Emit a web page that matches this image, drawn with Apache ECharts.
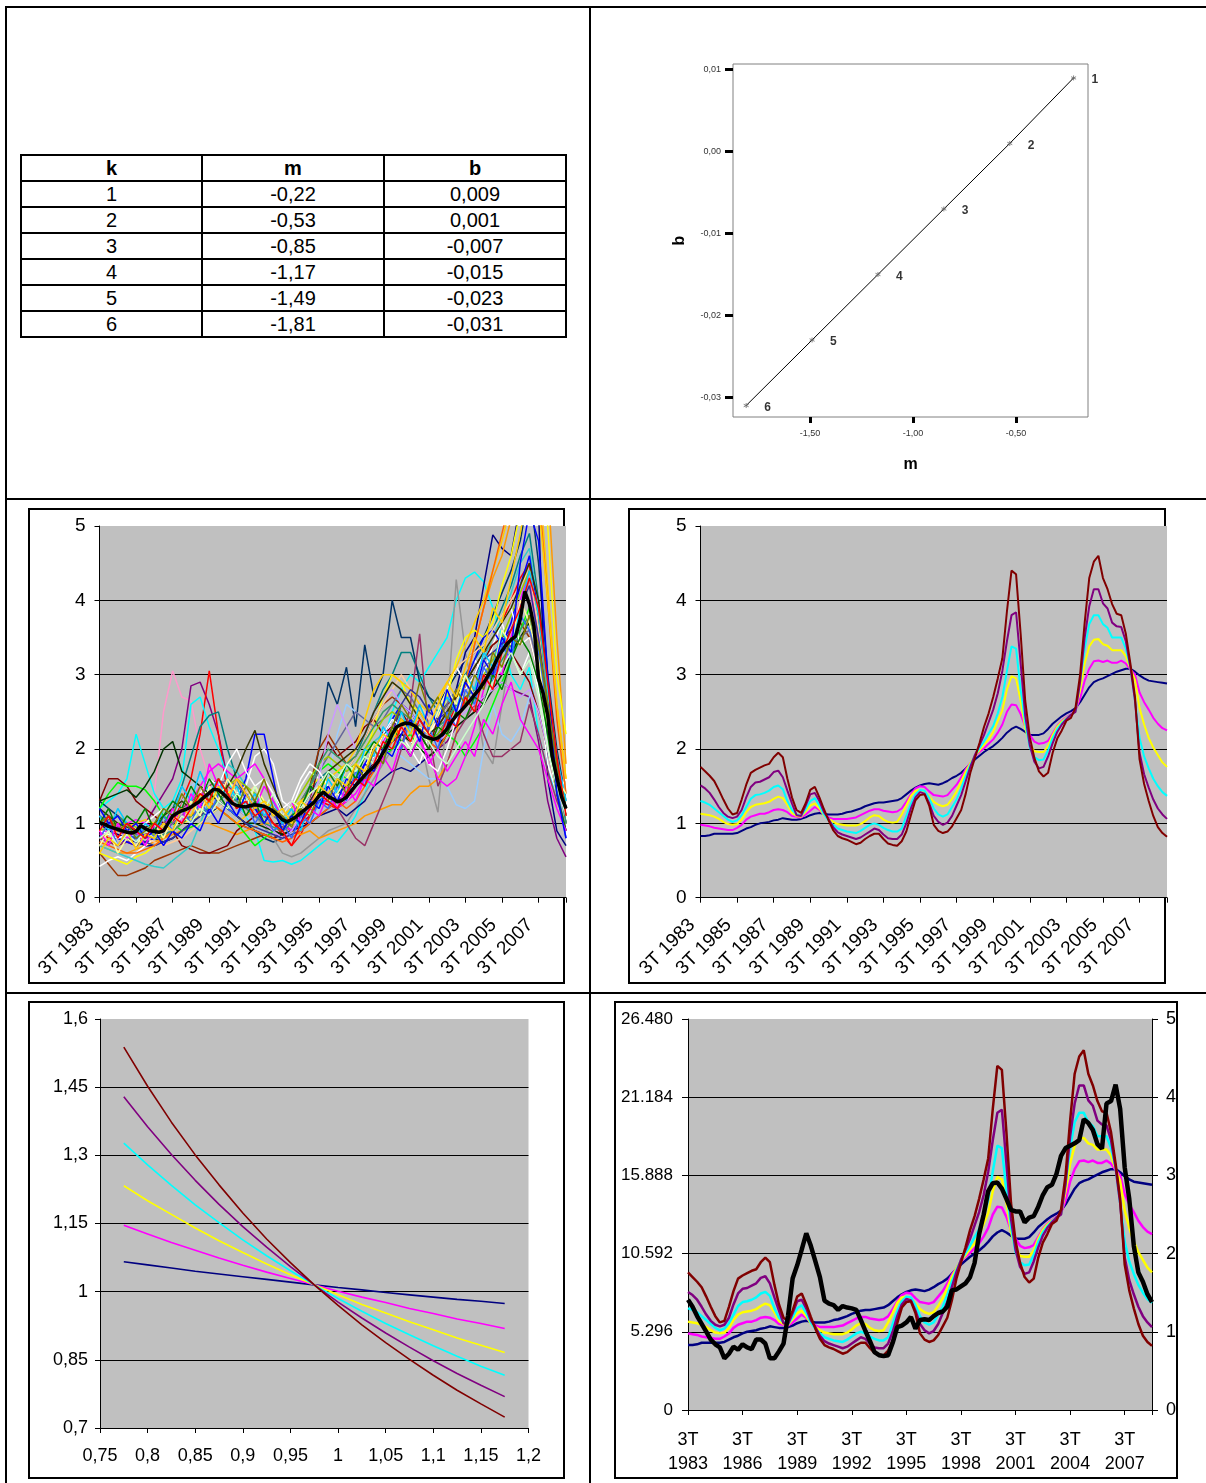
<!DOCTYPE html>
<html>
<head>
<meta charset="utf-8">
<script src="https://cdn.jsdelivr.net/npm/echarts@6/dist/echarts.min.js"></script>
<style>
  html, body { margin: 0; padding: 0; background: #fff; }
  #page { position: relative; width: 1206px; height: 1483px; overflow: hidden;
          font-family: "Liberation Sans", Arial, Helvetica, sans-serif; }
  .rule { position: absolute; background: #000; }
  .box { position: absolute; border: 2px solid #000; box-sizing: border-box; }
  #coefTable { position: absolute; left: 20px; top: 154px; width: 547px;
               border-collapse: collapse; table-layout: fixed; }
  #coefTable th, #coefTable td { border: 2px solid #000; text-align: center; font-size: 20px;
               font-family: "Liberation Sans", Arial, Helvetica, sans-serif;
               padding: 0; height: 24px; line-height: 22px; }
  #coefTable th { font-weight: bold; }
  #chart { position: absolute; left: 0; top: 0; width: 1206px; height: 1483px; }
</style>
</head>
<body>
<div id="page">
  <!-- cell frame -->
  <div class="rule" style="left:5px;top:6px;width:1201px;height:2px"></div>
  <div class="rule" style="left:5px;top:6px;width:2px;height:1477px"></div>
  <div class="rule" style="left:589px;top:6px;width:2px;height:1477px"></div>
  <div class="rule" style="left:5px;top:498px;width:1201px;height:2px"></div>
  <div class="rule" style="left:5px;top:992px;width:1201px;height:2px"></div>
  <!-- chart area outlines -->
  <div class="box" style="left:28px;top:508px;width:537px;height:476px"></div>
  <div class="box" style="left:628px;top:508px;width:538px;height:476px"></div>
  <div class="box" style="left:28px;top:1001px;width:537px;height:478px"></div>
  <div class="box" style="left:614px;top:1001px;width:564px;height:478px"></div>
  <table id="coefTable"></table>
  <div id="chart"></div>
</div>
<script>
// ---- regression coefficients per k ----
const kValues = [1, 2, 3, 4, 5, 6];
const mValues = [-0.22, -0.53, -0.85, -1.17, -1.49, -1.81];
const bValues = [0.009, 0.001, -0.007, -0.015, -0.023, -0.031];

// ---- quarterly categories, 3T 1983 .. 1T 2009 ----
const quarters = [];
for (let i = 0; i < 103; i++) {
  const n = 2 + i;
  quarters.push((n % 4 + 1) + 'T ' + (1983 + Math.floor(n / 4)));
}
// every second quarter (the provincial series are sampled half-yearly)
const halfYears = quarters.filter((q, i) => i % 2 === 0);

// ---- national average (thick black line, middle-left) ----
const avgAll = [
  1.01,0.99,0.96,0.94,0.92,0.90,0.88,0.87,0.89,0.97,
  0.93,0.90,0.89,0.88,0.90,1.00,1.10,1.14,1.17,1.19,
  1.22,1.26,1.30,1.36,1.41,1.46,1.45,1.40,1.34,1.27,
  1.24,1.23,1.22,1.24,1.25,1.24,1.23,1.20,1.16,1.11,
  1.05,1.02,1.05,1.09,1.14,1.19,1.24,1.29,1.37,1.42,
  1.36,1.33,1.29,1.31,1.35,1.43,1.51,1.58,1.65,1.71,
  1.76,1.84,1.95,2.06,2.20,2.30,2.33,2.35,2.34,2.31,
  2.24,2.17,2.15,2.13,2.15,2.20,2.27,2.37,2.45,2.51,
  2.58,2.65,2.73,2.80,2.89,2.99,3.09,3.22,3.32,3.41,
  3.47,3.52,3.75,4.12,3.95,3.65,2.95,2.75,2.45,1.90,
  1.62,1.36,1.20];

// ---- provincial series, half-yearly ----
const r01 = [1.0,0.9,0.85,0.8,0.9,1.0,1.4,2.5,3.05,2.7, 2.65,2.0,1.6,1.4,1.3,1.2,1.1,1.2,1.3,1.1, 1.0,1.1,1.2,1.3,1.5,1.4,1.3,1.4,1.6,1.7, 1.8,2.0,2.3,2.5,2.4,2.3,2.1,2.0,2.2,2.4, 2.6,2.7,2.9,3.1,3.3,3.5,3.9,4.2,3.2,2.4, 1.6,1.1];
const r02 = [0.8,0.75,0.7,0.8,0.9,1.0,1.2,1.4,1.6,2.0, 2.85,2.9,2.6,2.2,1.6,1.3,1.2,1.1,1.0,0.9, 0.85,0.9,1.0,1.1,1.3,1.3,1.2,1.3,1.5,1.6, 1.8,2.0,2.3,2.6,2.5,2.3,2.1,2.0,2.1,2.3, 2.4,2.5,2.7,2.8,2.9,2.8,2.75,2.7,2.1,1.3, 0.8,0.55];
const r03 = [0.9,0.8,0.8,0.75,0.7,0.75,0.8,0.9,1.0,1.3, 1.6,2.2,3.05,2.2,1.4,1.2,1.1,1.2,1.1,1.0, 0.85,0.7,0.85,1.1,1.3,1.25,1.2,1.3,1.5,1.7, 1.9,2.2,2.3,2.2,2.1,2.0,1.9,2.0,2.3,2.6, 2.8,3.0,3.3,3.5,3.7,4.0,4.3,4.5,3.4,2.5, 1.8,1.2];
const r04 = [1.2,1.3,1.4,1.6,2.2,1.8,1.4,1.2,1.3,1.6, 2.6,2.7,2.3,2.0,1.6,1.3,1.1,0.9,0.5,0.48, 0.5,0.45,0.5,0.6,0.7,0.8,0.75,0.9,1.1,1.4, 1.8,2.1,2.5,2.8,3.0,2.9,3.1,3.3,3.5,4.0, 4.3,4.38,4.25,3.9,3.5,3.0,2.8,3.1,2.2,1.7, 1.4,1.1];
const r05 = [1.1,1.0,0.95,0.9,0.85,0.9,0.95,1.0,1.2,1.5, 1.9,2.3,2.45,2.5,2.0,1.6,1.3,1.2,1.1,1.0, 0.95,1.0,1.2,1.4,1.6,1.7,1.6,1.7,1.9,2.2, 2.5,2.8,3.0,3.3,3.3,3.0,2.7,2.5,2.6,2.8, 3.0,3.2,3.4,3.6,3.9,4.2,4.6,4.9,4.0,2.8, 1.8,1.0];
const r06 = [1.3,1.2,1.1,1.0,0.9,0.85,0.8,0.75,0.8,0.9, 1.0,1.1,1.2,1.3,1.2,1.1,1.0,0.9,0.8,0.75, 0.8,0.9,1.2,1.4,2.0,2.9,2.6,3.1,2.3,3.4, 2.7,3.0,4.0,3.5,3.5,2.9,2.7,2.6,2.8,3.0, 3.2,3.3,3.5,3.8,4.1,4.4,4.8,5.5,4.5,3.0, 2.0,1.3];
const r07 = [1.0,0.95,0.9,0.85,0.8,0.85,0.9,0.95,1.0,1.1, 1.2,1.3,1.4,1.5,1.4,1.3,1.2,1.1,0.95,0.8, 0.6,0.55,0.6,0.7,0.8,0.9,0.95,1.0,1.2,1.4, 1.6,1.8,2.0,2.2,2.3,2.2,1.6,1.15,2.5,4.28, 3.3,2.7,2.0,1.8,2.6,3.3,3.8,4.3,3.4,2.6, 1.7,1.0];
const r08 = [1.0,0.9,0.85,0.8,0.75,0.7,0.7,0.75,0.8,0.9, 1.0,1.1,1.15,1.2,1.1,1.0,0.95,0.9,0.85,0.8, 0.85,0.9,0.95,1.0,1.1,1.15,1.2,1.1,1.2,1.3, 1.5,1.6,1.7,1.75,1.7,1.8,1.9,2.0,2.3,2.8, 3.3,3.5,4.2,4.88,4.7,4.6,5.3,5.6,5.2,1.6, 0.9,0.7];
const r09 = [0.7,0.65,0.6,0.6,0.65,0.7,0.75,0.8,0.85,0.9, 0.95,1.0,1.0,0.95,0.9,0.85,0.9,0.95,1.0,1.0, 0.95,0.9,0.85,0.9,0.8,0.85,0.9,0.95,1.0,1.1, 1.15,1.2,1.25,1.25,1.4,1.5,1.5,1.6,1.8,2.2, 2.8,3.4,3.9,4.3,4.6,5.1,5.6,6.0,6.2,5.6, 3.5,1.8];
const r10 = [0.9,0.85,0.8,0.8,0.85,0.9,0.95,1.0,1.1,1.3, 1.5,1.6,1.5,1.4,1.3,1.2,1.1,1.0,0.9,0.85, 0.8,0.85,0.9,1.0,1.2,1.6,2.2,2.6,2.5,2.4, 2.3,2.2,2.0,1.9,1.8,1.7,1.6,1.6,1.5,1.25, 1.2,1.3,2.0,2.6,2.2,2.1,2.3,2.7,3.0,2.4, 1.8,1.4];
const r11 = [0.6,0.45,0.3,0.3,0.35,0.4,0.5,0.55,0.6,0.65, 0.7,0.65,0.6,0.6,0.65,0.7,0.75,0.8,0.85,0.8, 0.9,1.0,1.2,1.5,2.0,2.2,2.0,1.8,1.9,2.1, 2.4,2.6,2.7,2.6,2.5,2.3,2.2,2.3,2.5,2.7, 2.9,3.1,3.3,3.4,3.5,3.6,3.7,3.5,3.0,2.3, 1.6,1.0];
const r12 = [0.42,0.5,0.55,0.5,0.6,0.7,0.8,0.9,1.0,1.1, 1.2,1.3,1.5,1.6,1.5,1.4,1.5,1.9,2.0,1.8, 1.3,1.2,1.5,1.7,1.6,1.5,1.4,1.3,1.6,1.8, 1.9,2.1,2.4,2.2,2.0,1.8,2.2,2.4,2.8,3.1, 2.9,3.2,3.0,3.4,3.7,3.3,3.0,3.3,2.8,1.8, 1.4,1.6];
const r13 = [0.6,0.55,0.5,0.45,0.55,0.6,0.7,0.8,0.9,1.0, 1.05,1.1,1.2,1.3,1.4,1.5,1.4,1.3,1.2,1.1, 1.0,1.1,1.3,1.5,1.6,1.5,1.4,1.5,1.7,1.9, 2.3,2.7,3.0,2.9,2.6,2.5,2.3,2.4,2.7,3.2, 3.5,3.6,3.5,3.7,4.2,4.6,5.2,5.8,6.0,5.0, 3.0,2.2];
const r14 = [1.3,1.6,1.6,1.5,1.3,1.2,1.1,1.0,0.9,0.7, 0.65,0.6,0.6,0.65,0.7,0.9,1.0,1.1,1.0,0.9, 0.85,0.9,1.1,1.3,1.8,2.1,1.9,2.0,2.1,2.3, 2.4,2.2,2.3,2.5,2.3,2.2,2.0,2.4,2.6,2.7, 2.8,3.0,3.2,3.4,3.5,3.3,3.1,2.9,2.5,2.0, 1.4,0.9];
const r15 = [1.2,1.4,1.55,1.5,1.5,1.45,1.3,1.1,1.0,0.9, 0.95,1.0,1.1,1.2,1.1,1.0,0.85,0.7,0.8,0.9, 1.0,1.1,1.3,1.5,1.7,1.8,1.7,1.6,1.5,1.6, 1.8,1.9,2.0,2.1,2.2,2.0,1.9,2.0,2.2,2.1, 1.9,2.1,2.3,2.6,2.9,3.2,3.6,3.9,3.3,2.2, 1.5,1.0];
const r16 = [1.3,1.35,1.4,1.45,1.35,1.5,1.7,2.0,2.1,1.7, 1.6,1.5,1.4,1.3,1.2,1.1,1.0,1.0,0.95,0.9, 0.85,0.9,1.0,1.2,1.4,1.5,1.4,1.5,1.6,1.7, 1.8,2.0,2.1,2.2,2.1,2.0,1.9,2.0,2.2,2.3, 2.4,2.5,2.6,2.8,3.0,3.3,3.5,3.7,3.2,2.4, 1.7,1.1];
const r17 = [0.7,0.65,0.6,0.55,0.5,0.45,0.42,0.4,0.5,0.6, 0.7,1.0,1.3,1.5,1.8,1.7,1.5,1.4,1.3,1.2, 1.1,1.0,1.1,1.2,1.3,1.4,1.5,1.6,1.8,2.0, 2.1,2.2,2.4,2.6,2.5,2.3,2.1,2.2,2.4,2.6, 2.8,3.0,3.2,3.5,3.8,4.1,4.5,4.7,3.9,2.8, 1.9,1.2];
const r18 = [0.8,0.75,0.7,0.75,0.8,0.85,0.9,1.0,1.1,1.2, 1.3,1.4,1.5,1.6,1.5,1.4,1.3,1.2,1.1,1.0, 0.95,1.0,1.1,1.2,1.3,1.4,1.2,1.0,0.8,0.7, 1.0,1.3,1.6,2.0,2.6,3.55,2.2,1.5,1.8,2.2, 2.4,2.6,2.2,1.9,1.9,2.0,2.1,2.6,2.2,1.7, 1.3,1.0];
const r19 = [0.9,0.85,0.8,0.75,0.7,0.75,0.8,0.85,0.9,1.0, 1.1,1.2,1.4,1.5,1.4,1.3,1.6,2.2,2.2,1.6, 1.0,0.9,1.0,1.2,1.3,1.4,1.3,1.4,1.6,1.8, 2.0,2.2,2.4,2.6,2.5,2.3,2.1,2.2,2.4,2.6, 2.9,3.2,3.5,3.6,3.4,3.7,4.2,4.6,3.8,2.6, 1.7,1.1];
const r20 = [0.85,0.9,0.95,1.0,1.05,1.0,0.95,0.9,1.0,1.1, 1.3,1.5,1.7,1.8,1.7,1.6,1.7,1.8,1.6,1.3, 1.0,0.9,1.1,1.3,1.4,1.3,1.2,1.3,1.4,1.6, 1.8,2.1,2.3,2.4,2.3,2.1,1.9,1.6,1.5,1.6, 1.9,2.3,2.8,3.1,3.0,3.5,4.0,4.4,3.5,2.4, 1.6,1.2];
const r21 = [1.0,1.1,1.0,0.9,0.85,0.8,0.75,0.7,0.75,0.8, 0.9,1.0,1.1,1.2,1.3,1.2,1.4,1.5,1.3,1.2, 1.0,0.95,1.1,1.3,1.5,1.6,1.5,1.7,1.9,2.1, 2.4,2.6,2.8,3.0,2.8,2.6,2.4,2.6,2.9,3.1, 3.2,3.3,3.4,3.6,3.8,4.0,4.2,4.4,3.6,2.6, 1.8,1.3];
const r22 = [1.1,1.0,0.95,0.9,0.85,0.8,0.85,0.9,1.0,1.1, 1.2,1.3,1.4,1.5,1.6,1.5,1.4,1.3,1.2,1.1, 1.0,1.1,1.3,1.5,1.7,1.9,2.1,2.3,2.5,2.4, 2.3,2.4,2.6,2.8,2.7,2.5,2.3,2.4,2.6,2.8, 2.9,3.0,3.1,3.2,3.3,3.4,3.5,3.6,3.1,2.4, 1.7,1.2];
const r23 = [0.9,0.95,1.0,1.0,0.95,0.9,0.85,0.8,0.9,1.0, 1.1,1.2,1.3,1.4,1.5,1.6,1.5,1.4,1.3,1.2, 1.1,1.2,1.4,1.6,1.8,1.9,1.8,1.7,1.8,2.0, 2.2,2.4,2.5,2.4,2.3,2.2,2.1,2.2,2.4,2.6, 2.7,2.8,3.0,3.2,3.5,3.8,4.1,4.4,3.8,2.7, 1.8,1.1];
const r24 = [0.8,0.85,0.9,0.95,1.0,1.05,1.0,0.95,0.9,1.0, 1.1,1.2,1.3,1.2,1.1,1.0,1.1,1.2,1.3,1.2, 1.1,1.2,1.3,1.4,1.5,1.6,1.7,1.8,2.0,2.4, 2.8,3.0,3.0,2.9,2.8,2.6,2.5,2.7,2.9,3.1, 3.4,3.7,4.0,4.4,4.8,5.3,5.8,6.2,5.8,4.2, 2.6,1.6];
const r25 = [1.2,1.1,1.0,0.95,0.9,0.85,0.8,0.85,0.9,1.0, 1.2,1.3,1.4,1.5,1.4,1.3,1.2,1.1,1.0,0.9, 0.8,0.9,1.1,1.3,1.6,2.2,2.6,2.3,2.0,2.2, 2.5,2.7,2.8,2.6,2.5,2.3,2.2,2.1,2.2,2.4, 2.5,2.6,2.7,2.8,2.9,2.8,2.7,2.8,2.5,2.0, 1.5,1.0];
const r26 = [1.0,0.95,0.9,0.85,0.8,0.75,0.7,0.75,0.8,0.9, 1.0,1.1,1.2,1.3,1.2,1.1,1.0,0.95,0.9,0.85, 0.8,0.85,0.9,1.0,1.1,1.2,1.3,1.4,1.5,1.6, 1.7,1.9,2.2,2.6,2.8,2.7,2.5,2.4,2.5,2.6, 2.8,3.0,3.2,3.3,3.4,3.6,3.9,4.2,3.5,2.6, 1.8,1.2];
const r27 = [0.75,0.7,0.65,0.6,0.6,0.65,0.7,0.8,0.9,1.0, 1.1,1.2,1.3,1.2,1.1,1.0,0.95,0.9,0.85,0.8, 0.75,0.8,0.9,1.0,1.1,1.2,1.3,1.2,1.3,1.5, 1.7,1.9,2.1,2.3,2.4,2.3,2.1,2.0,2.2,2.5, 2.9,3.4,3.9,4.4,4.9,5.4,5.8,6.0,5.5,4.0, 2.4,1.4];
const r28 = [1.0,1.05,1.1,1.0,0.9,0.85,0.8,0.85,0.9,1.0, 1.1,1.15,1.2,1.3,1.4,1.3,1.2,1.1,1.0,0.95, 0.9,1.0,1.2,1.5,1.8,2.0,1.9,1.8,1.9,2.1, 2.3,2.5,2.6,2.5,2.4,2.3,2.2,2.3,2.4,2.6, 2.7,2.8,2.9,3.0,3.2,3.4,3.6,3.8,3.3,2.5, 1.7,1.0];
const r29 = [0.9,0.85,0.8,0.85,0.9,1.0,1.1,1.2,1.1,1.0, 1.2,1.4,1.6,1.5,1.8,2.0,1.7,1.5,1.6,1.4, 1.2,1.3,1.6,1.8,1.7,1.5,1.4,1.3,1.5,1.7, 1.9,2.2,2.4,2.3,2.1,2.0,1.8,1.7,2.0,2.4, 2.8,3.0,3.3,3.5,3.7,3.9,3.4,3.5,3.0,2.0, 1.4,1.3];
const r30 = [1.2,1.1,1.0,0.95,0.9,0.95,1.0,1.1,1.2,1.3, 1.2,1.3,1.4,1.3,1.5,1.7,2.0,2.25,1.8,1.5, 1.2,1.0,1.1,1.3,1.5,1.7,1.8,1.9,2.0,2.2, 2.5,2.7,2.9,2.8,2.6,2.4,2.2,2.3,2.5,2.7, 2.9,3.1,3.3,3.5,3.7,3.9,4.2,4.5,4.0,2.9, 1.9,1.2];
const r31 = [0.8,1.0,0.7,0.9,0.75,0.95,0.8,1.1,0.9,1.2, 1.0,1.3,1.1,1.4,1.2,1.1,1.3,1.0,1.2,0.9, 1.0,0.8,1.1,1.0,1.3,1.2,1.5,1.3,1.7,1.5, 2.0,1.8,2.2,2.0,2.4,2.1,2.3,2.0,2.5,2.3, 2.8,2.6,3.1,2.9,3.4,3.2,3.8,3.6,3.3,2.4, 1.5,0.8];
const r32 = [1.1,0.9,1.2,1.0,0.8,1.0,0.9,1.2,1.1,1.5, 1.3,1.7,1.4,1.6,1.3,1.5,1.2,1.4,1.1,1.3, 1.0,1.2,0.9,1.3,1.2,1.6,1.4,1.8,1.6,2.0, 1.9,2.3,2.1,2.5,2.2,2.6,2.3,2.5,2.7,2.5, 3.0,2.8,3.3,3.1,3.6,3.3,3.9,4.4,3.8,2.8, 1.9,1.3];
const r33 = [0.7,0.9,0.6,0.8,0.7,0.9,1.0,0.8,1.1,1.0, 1.3,1.1,1.5,1.3,1.6,1.4,1.2,1.5,1.3,1.1, 1.2,1.0,1.3,1.1,1.5,1.3,1.4,1.6,1.8,1.7, 2.1,1.9,2.3,2.1,2.0,2.3,2.2,2.5,2.8,2.6, 3.0,2.7,3.2,3.0,3.6,3.4,4.0,3.7,3.2,2.3, 1.6,1.4];
const r34 = [1.0,1.2,0.9,1.1,1.0,1.2,0.9,1.1,1.3,1.2, 1.5,1.3,1.6,1.4,1.2,1.4,1.1,1.3,1.0,1.2, 0.9,1.1,1.2,1.5,1.4,1.7,1.5,1.8,1.6,1.9, 2.1,2.0,2.3,2.1,1.9,2.2,2.0,2.3,2.2,2.5, 2.4,2.7,2.6,3.0,2.8,3.2,3.5,3.3,2.9,2.2, 1.4,0.9];
const r35 = [0.9,0.7,1.0,0.8,0.9,0.7,1.0,0.9,1.2,1.0, 1.4,1.2,1.8,1.5,1.3,1.6,1.4,1.2,1.5,1.3, 1.1,1.3,1.0,1.2,1.1,1.4,1.2,1.5,1.3,1.6, 1.5,1.9,1.7,2.1,1.9,2.2,1.8,2.0,1.7,1.9, 2.1,1.9,2.4,2.2,2.6,2.9,2.4,2.2,2.0,1.6, 1.2,0.9];
const r36 = [0.8,0.9,0.7,0.85,0.75,0.9,0.8,1.0,0.9,1.1, 1.0,1.2,1.1,1.3,1.2,1.4,1.3,1.5,1.2,1.4, 1.1,1.3,1.2,1.4,1.5,1.7,1.6,1.8,1.7,1.9, 1.8,2.0,1.9,2.1,2.0,2.2,2.1,1.9,1.8,2.0, 2.2,2.4,2.6,2.9,3.1,3.3,3.0,3.2,2.7,2.0, 1.5,1.1];
const r37 = [1.2,1.0,1.1,0.9,1.0,0.8,0.9,0.7,0.9,0.8, 1.0,0.9,1.2,1.0,1.3,1.1,1.4,1.2,1.0,1.2, 0.9,1.1,1.0,1.3,1.2,1.5,1.3,1.6,1.5,1.8, 1.7,2.0,1.9,2.2,2.4,2.1,2.6,2.3,2.8,2.5, 2.9,2.7,3.2,3.0,3.5,3.3,4.5,5.2,4.8,3.0, 1.4,0.8];
const r38 = [1.0,1.1,0.9,1.0,0.8,0.9,1.0,1.2,1.1,1.4, 1.2,1.5,1.3,1.6,1.4,1.2,1.5,1.3,1.6,1.2, 1.1,0.95,1.2,1.1,1.4,1.3,1.6,1.4,1.8,1.6, 2.0,1.8,2.3,2.6,2.4,2.9,2.5,2.7,2.4,2.8, 2.6,3.0,2.8,3.3,3.1,3.5,3.4,3.8,3.4,2.6, 1.8,1.2];
const r39 = [0.6,0.8,0.7,0.9,0.65,0.85,0.8,1.0,0.9,1.2, 1.1,1.4,1.2,1.5,1.3,1.6,1.4,1.2,1.3,1.1, 1.2,1.0,1.3,1.2,1.5,1.4,1.6,1.5,1.8,1.7, 2.0,2.2,2.1,2.4,2.2,2.5,2.3,2.6,2.9,2.7, 3.1,3.5,3.3,3.9,3.7,4.3,4.9,5.6,5.3,4.0, 2.6,1.6];
const r40 = [0.9,1.1,0.8,1.0,0.9,0.8,1.0,0.9,1.1,1.0, 1.2,1.4,1.3,1.6,1.4,1.2,1.3,1.1,1.2,1.0, 0.9,0.7,1.0,1.2,1.4,1.3,1.2,1.4,1.6,1.5, 1.8,2.1,2.0,2.3,2.1,2.4,2.2,2.1,2.4,2.3, 2.7,2.5,3.0,2.8,3.3,3.6,3.9,4.3,3.9,2.9, 1.9,1.1];
const regionSeries = [r01,r02,r03,r04,r05,r06,r07,r08,r09,r10,r11,r12,r13,r14,r15,r16,r17,r18,r19,r20,
                      r21,r22,r23,r24,r25,r26,r27,r28,r29,r30,r31,r32,r33,r34,r35,r36,r37,r38,r39,r40];
const regionColors = ['#FF99CC','#800080','#FF0000','#00FFFF','#008080','#003366','#969696',
  '#000080','#FF9900','#99CCFF','#993300','#FFFFFF','#FFFF00','#800000','#00FF00','#003300',
  '#33CCCC','#993366','#0000FF','#FF00FF','#FFCC99','#666699','#99CC00','#FFCC00','#CC99FF',
  '#333399','#FF6600','#339966','#FFFFFF','#333300',
  '#3366FF','#00CCFF','#FFFF99','#008000','#FF00FF','#CCFFCC','#0000FF','#808000','#FFCC00','#FF0000'];

// ---- fitted ratio for each k (quarterly) ----
const fitK1 = [
  0.83,0.83,0.84,0.86,0.86,0.86,0.86,0.86,0.87,0.90, 0.93,0.95,0.98,1.00,1.01,1.02,1.04,1.05,1.07,1.06,
  1.05,1.05,1.06,1.08,1.11,1.13,1.14,1.13,1.12,1.12, 1.12,1.13,1.15,1.16,1.18,1.20,1.23,1.25,1.27,1.28,
  1.28,1.29,1.30,1.31,1.34,1.39,1.44,1.48,1.51,1.53, 1.54,1.53,1.52,1.54,1.57,1.61,1.64,1.68,1.74,1.80,
  1.86,1.91,1.96,2.00,2.04,2.09,2.15,2.22,2.27,2.30, 2.27,2.23,2.19,2.19,2.19,2.21,2.27,2.34,2.39,2.44,
  2.48,2.51,2.55,2.63,2.73,2.83,2.90,2.93,2.95,2.98, 3.01,3.04,3.06,3.08,3.08,3.04,2.99,2.95,2.92,2.91,
  2.90,2.89,2.88];
const fitK2 = [
  0.98,0.97,0.96,0.94,0.93,0.92,0.91,0.91,0.94,0.98, 1.05,1.09,1.11,1.13,1.13,1.15,1.18,1.19,1.18,1.15,
  1.10,1.09,1.08,1.12,1.17,1.22,1.18,1.12,1.08,1.06, 1.06,1.06,1.06,1.07,1.08,1.11,1.14,1.17,1.19,1.19,
  1.17,1.16,1.15,1.16,1.20,1.29,1.39,1.47,1.50,1.49, 1.43,1.38,1.37,1.36,1.38,1.45,1.52,1.62,1.73,1.81,
  1.90,1.96,2.01,2.07,2.13,2.22,2.33,2.50,2.60,2.59, 2.47,2.30,2.19,2.10,2.07,2.08,2.11,2.21,2.31,2.38,
  2.43,2.47,2.52,2.68,2.92,3.08,3.18,3.19,3.17,3.19, 3.16,3.16,3.19,3.15,3.07,3.00,2.76,2.63,2.53,2.42,
  2.34,2.28,2.25];
const fitK3 = [
  1.13,1.12,1.11,1.09,1.06,1.02,0.99,0.98,0.99,1.05, 1.15,1.22,1.25,1.26,1.27,1.29,1.33,1.36,1.34,1.25,
  1.14,1.10,1.09,1.16,1.24,1.27,1.20,1.11,1.06,1.02, 0.99,0.98,0.97,0.97,0.97,0.99,1.03,1.08,1.11,1.10,
  1.05,1.02,1.01,1.02,1.12,1.24,1.37,1.44,1.45,1.43, 1.36,1.29,1.25,1.23,1.25,1.33,1.43,1.56,1.70,1.81,
  1.91,1.98,2.06,2.13,2.23,2.38,2.52,2.80,2.98,2.95, 2.65,2.28,2.06,1.97,1.96,1.96,2.04,2.19,2.30,2.37,
  2.42,2.46,2.51,2.80,3.15,3.38,3.47,3.48,3.41,3.39, 3.33,3.33,3.33,3.25,3.08,2.93,2.55,2.33,2.15,2.02,
  1.92,1.82,1.76];
const fitK4 = [
  1.30,1.28,1.25,1.20,1.15,1.10,1.05,1.02,1.04,1.11, 1.22,1.33,1.38,1.39,1.41,1.44,1.49,1.51,1.46,1.30,
  1.18,1.12,1.10,1.19,1.30,1.34,1.24,1.12,1.04,0.98, 0.93,0.91,0.89,0.88,0.87,0.90,0.94,0.98,1.00,0.98,
  0.94,0.91,0.89,0.89,0.93,1.10,1.26,1.39,1.45,1.44, 1.34,1.20,1.12,1.09,1.12,1.22,1.32,1.47,1.64,1.79,
  1.91,2.01,2.10,2.21,2.31,2.48,2.70,3.05,3.38,3.35, 2.80,2.35,2.02,1.89,1.85,1.86,1.98,2.15,2.27,2.35,
  2.41,2.46,2.51,2.90,3.35,3.68,3.80,3.80,3.68,3.63, 3.50,3.50,3.50,3.35,3.10,2.65,2.15,1.90,1.74,1.60,
  1.50,1.42,1.37];
const fitK5 = [
  1.51,1.47,1.41,1.32,1.22,1.14,1.09,1.07,1.09,1.18, 1.35,1.49,1.55,1.56,1.59,1.62,1.69,1.71,1.62,1.44,
  1.27,1.11,1.10,1.24,1.39,1.41,1.30,1.15,1.06,0.95, 0.88,0.85,0.83,0.81,0.79,0.81,0.85,0.89,0.93,0.91,
  0.85,0.80,0.79,0.79,0.85,1.00,1.20,1.35,1.42,1.40, 1.27,1.10,1.02,0.98,1.01,1.10,1.24,1.38,1.57,1.76,
  1.92,2.05,2.19,2.36,2.53,2.75,3.05,3.45,3.80,3.84, 3.15,2.45,2.05,1.83,1.74,1.76,1.90,2.08,2.23,2.33,
  2.40,2.46,2.50,2.90,3.50,3.92,4.15,4.15,3.96,3.89, 3.70,3.65,3.64,3.45,3.10,2.65,1.95,1.66,1.48,1.32,
  1.20,1.12,1.06];
const fitK6 = [
  1.76,1.70,1.64,1.57,1.45,1.32,1.20,1.12,1.14,1.32, 1.52,1.68,1.72,1.75,1.78,1.80,1.89,1.95,1.89,1.60,
  1.35,1.18,1.14,1.27,1.45,1.49,1.35,1.19,1.04,0.91, 0.83,0.80,0.78,0.75,0.72,0.74,0.79,0.83,0.86,0.86,
  0.79,0.73,0.71,0.70,0.76,0.89,1.11,1.31,1.38,1.39, 1.24,0.98,0.90,0.87,0.89,0.96,1.07,1.18,1.40,1.68,
  1.88,2.08,2.30,2.48,2.70,2.95,3.22,3.85,4.40,4.35, 3.55,2.65,2.16,1.88,1.70,1.63,1.68,1.95,2.14,2.25,
  2.38,2.42,2.56,3.00,3.70,4.30,4.52,4.60,4.30,4.15, 3.95,3.82,3.80,3.55,3.15,2.70,1.86,1.53,1.30,1.10,
  0.95,0.87,0.82];
const fitSeries = [fitK1, fitK2, fitK3, fitK4, fitK5, fitK6];
const fitColors = ['#000080', '#FF00FF', '#FFFF00', '#00FFFF', '#800080', '#800000'];

// ---- response curves y(x) for each k ----
const ratioX = [0.775,0.8,0.825,0.85,0.875,0.9,0.925,0.95,0.975,1.0,1.025,1.05,1.075,1.1,1.125,1.15,1.175];
const curveK1 = [1.066,1.059,1.052,1.045,1.039,1.033,1.027,1.021,1.015,1.009,1.004,0.998,0.993,0.988,0.983,0.979,0.974];
const curveK2 = [1.146,1.127,1.108,1.091,1.074,1.058,1.043,1.029,1.015,1.001,0.988,0.976,0.963,0.952,0.940,0.930,0.919];
const curveK3 = [1.233,1.200,1.170,1.140,1.112,1.086,1.061,1.037,1.015,0.993,0.972,0.953,0.934,0.916,0.898,0.882,0.866];
const curveK4 = [1.327,1.279,1.234,1.191,1.152,1.114,1.079,1.046,1.015,0.985,0.957,0.930,0.905,0.881,0.858,0.836,0.816];
const curveK5 = [1.429,1.363,1.302,1.245,1.192,1.143,1.098,1.055,1.015,0.977,0.942,0.909,0.878,0.848,0.820,0.794,0.769];
const curveK6 = [1.538,1.452,1.373,1.301,1.235,1.173,1.116,1.064,1.015,0.970,0.927,0.888,0.851,0.816,0.783,0.753,0.724];
const curveSeries = [curveK1, curveK2, curveK3, curveK4, curveK5, curveK6];

// ---- price index (left axis, bottom-right) ----
const priceIndex = [
  7470,6990,6360,5830,5300,4770,4450,4240,3500,3810,
  4290,4080,4450,4240,4130,4770,4770,4500,3500,3500,
  3970,4500,6410,8900,9800,10860,11970,11120,10060,9000,
  7410,7200,7100,6780,7040,6940,6880,6780,6090,5350,
  4660,3920,3710,3650,3710,4550,5610,5720,5930,6300,
  5510,6090,6140,6090,6360,6570,6670,6990,8100,8160,
  8370,8580,9000,9960,11920,13240,14830,15360,15410,14990,
  14300,13560,13450,13450,12710,13030,13130,13770,14560,15090,
  15250,15990,17210,17740,17900,18060,18270,19700,19440,18960,
  18010,17690,20760,20920,22030,20390,16420,14300,11120,9320,
  8690,7840,7310];

// ---- axis tick labels ----
const bTicks = [-0.03, -0.02, -0.01, 0, 0.01];
const mTicks = [-1.5, -1, -0.5];

// ---- coefficient table ----
const fmtDec = (v, d) => v.toFixed(d).replace('.', ',');
(function buildTable() {
  const t = document.getElementById('coefTable');
  let html = '<colgroup><col style="width:181px"><col style="width:182px"><col style="width:182px"></colgroup>';
  html += '<tr><th>k</th><th>m</th><th>b</th></tr>';
  kValues.forEach((k, i) => {
    html += '<tr><td>' + k + '</td><td>' + fmtDec(mValues[i], 2) + '</td><td>' + fmtDec(bValues[i], 3) + '</td></tr>';
  });
  t.innerHTML = html;
})();

// ---- charts ----
const FONT = '"Liberation Sans", Arial, Helvetica, sans-serif';
const trimComma = v => String(parseFloat(v.toFixed(2))).replace('.', ',');
const thousands = v => String(Math.round(v)).replace(/\B(?=(\d{3})+(?!\d))/g, '.');
const lastQ = quarters.length - 1;

function quarterAxis(gridIndex, step, opts) {
  return Object.assign({
    type: 'category', gridIndex: gridIndex, data: quarters, boundaryGap: false,
    axisLine: { show: true, lineStyle: { color: '#000', width: 1 } },
    axisTick: { show: true, inside: false, length: 5, lineStyle: { color: '#000' },
                interval: i => i % step === 0 || i === lastQ },
    splitLine: { show: false }
  }, opts);
}
function valueY(gridIndex, min, max, interval, opts) {
  return Object.assign({
    type: 'value', gridIndex: gridIndex, min: min, max: max, interval: interval,
    axisLine: { show: true, lineStyle: { color: '#000', width: 1 } },
    axisTick: { show: true, inside: false, length: 5, lineStyle: { color: '#000' } },
    axisLabel: { fontSize: 19, color: '#000', margin: 14, fontFamily: FONT },
    splitLine: { show: true, showMinLine: false, showMaxLine: false, lineStyle: { color: '#000', width: 1 } }
  }, opts);
}
const rotatedLabels = () => ({ interval: i => i % 8 === 0, rotate: 45, fontSize: 19, color: '#000',
  margin: 16, padding: [0, 12, 0, 0], fontFamily: FONT });

const series = [];

// scatter of (m, b) with its fitted line
const mbPoints = mValues.map((m, i) => [m, bValues[i]]);
series.push({
  type: 'line', xAxisIndex: 0, yAxisIndex: 0, data: mbPoints, symbol: 'none',
  lineStyle: { color: '#000', width: 1 }, silent: true, z: 3
});
series.push({
  type: 'scatter', xAxisIndex: 0, yAxisIndex: 0,
  data: mbPoints.map((p, i) => ({ value: p, name: String(kValues[i]) })),
  symbol: 'path://M5,0L5,10M0.67,2.5L9.33,7.5M0.67,7.5L9.33,2.5', symbolSize: 5,
  itemStyle: { color: 'transparent', borderColor: '#666', borderWidth: 1 },
  label: { show: true, formatter: p => p.name, position: 'right', distance: 15, offset: [0, 2],
           fontSize: 12, fontWeight: 'bold', color: '#000', fontFamily: FONT },
  silent: true, z: 4
});

// provincial series + national average
regionSeries.forEach((d, i) => {
  series.push({
    type: 'line', xAxisIndex: 2, yAxisIndex: 1, data: d, symbol: 'none',
    lineStyle: { color: regionColors[i], width: 1.5 }, silent: true, z: 2
  });
});
series.push({
  type: 'line', xAxisIndex: 1, yAxisIndex: 1, data: avgAll, symbol: 'none',
  lineStyle: { color: '#000', width: 3.5 }, silent: true, z: 5
});

// fitted ratios, middle-right and bottom-right
fitSeries.forEach((d, i) => {
  series.push({
    type: 'line', xAxisIndex: 3, yAxisIndex: 2, data: d, symbol: 'none',
    lineStyle: { color: fitColors[i], width: 2 }, silent: true, z: 3
  });
  series.push({
    type: 'line', xAxisIndex: 5, yAxisIndex: 5, data: d, symbol: 'none',
    lineStyle: { color: fitColors[i], width: 2.5 }, silent: true, z: 3
  });
});
series.push({
  type: 'line', xAxisIndex: 5, yAxisIndex: 4, data: priceIndex, symbol: 'none',
  lineStyle: { color: '#000', width: 4.5 }, silent: true, z: 5
});

// response curves, bottom-left
curveSeries.forEach((d, i) => {
  series.push({
    type: 'line', xAxisIndex: 4, yAxisIndex: 3, data: ratioX.map((x, j) => [x, d[j]]),
    symbol: 'none', lineStyle: { color: fitColors[i], width: 1.6 }, silent: true, z: 3
  });
});

const plotGrid = (l, t, w, h) => ({ left: l, top: t, width: w, height: h, show: true,
  backgroundColor: '#C0C0C0', borderWidth: 0, containLabel: false, outerBoundsMode: 'none' });

const option = {
  animation: false,
  backgroundColor: 'transparent',
  textStyle: { fontFamily: FONT },
  grid: [
    { left: 733, top: 64, width: 355, height: 353, show: true, backgroundColor: 'transparent',
      borderColor: '#808080', borderWidth: 1, containLabel: false, outerBoundsMode: 'none' },
    plotGrid(99.5, 526, 466.5, 371.7),
    plotGrid(700.5, 526, 466.5, 371.7),
    plotGrid(100, 1019, 428.5, 409),
    plotGrid(688, 1019, 464, 391)
  ],
  xAxis: [
    { type: 'value', gridIndex: 0, min: -1.874, max: -0.15,
      axisLine: { show: false, onZero: false }, splitLine: { show: false },
      axisTick: { show: true, customValues: mTicks, length: 6, lineStyle: { color: '#000', width: 3 } },
      axisLabel: { customValues: mTicks, formatter: v => fmtDec(v, 2), fontSize: 9, color: '#333', margin: 12 },
      name: 'm', nameLocation: 'middle', nameGap: 40,
      nameTextStyle: { fontSize: 16, fontWeight: 'bold', color: '#000' } },
    quarterAxis(1, 8, { axisLabel: rotatedLabels() }),
    { type: 'category', gridIndex: 1, data: halfYears, boundaryGap: false, show: false },
    quarterAxis(2, 8, { axisLabel: rotatedLabels() }),
    { type: 'value', gridIndex: 3, min: 0.75, max: 1.2, interval: 0.05,
      axisLine: { show: true, lineStyle: { color: '#000' } },
      axisTick: { show: true, length: 5, lineStyle: { color: '#000' } },
      axisLabel: { formatter: trimComma, fontSize: 18, color: '#000', margin: 19 },
      splitLine: { show: false } },
    quarterAxis(4, 12, { axisLabel: { interval: i => i % 12 === 0, formatter: v => v.replace(' ', '\n'),
      fontSize: 18, lineHeight: 24, color: '#000', margin: 18 } })
  ],
  yAxis: [
    { type: 'value', gridIndex: 0, min: -0.0324, max: 0.0107,
      axisLine: { show: false, onZero: false }, splitLine: { show: false },
      axisTick: { show: true, customValues: bTicks, length: 8, lineStyle: { color: '#000', width: 3 } },
      axisLabel: { customValues: bTicks, formatter: v => fmtDec(v, 2), fontSize: 9, color: '#333', margin: 12 },
      name: 'b', nameLocation: 'middle', nameGap: 45, nameRotate: 90,
      nameTextStyle: { fontSize: 16, fontWeight: 'bold', color: '#000' } },
    valueY(1, 0, 5, 1),
    valueY(2, 0, 5, 1),
    valueY(3, 0.7, 1.6, 0.15, { axisLabel: { formatter: trimComma, fontSize: 18, color: '#000', margin: 12 } }),
    valueY(4, 0, 26480, 5296, { axisLabel: { formatter: thousands, fontSize: 17, color: '#000', margin: 15 },
      axisTick: { show: true, length: 6, lineStyle: { color: '#000' } } }),
    valueY(4, 0, 5, 1, { position: 'right', splitLine: { show: false },
      axisTick: { show: true, length: 6, lineStyle: { color: '#000' } },
      axisLabel: { fontSize: 18, color: '#000', margin: 14 } })
  ],
  series: series
};

const chart = echarts.init(document.getElementById('chart'), null, { renderer: 'canvas', width: 1206, height: 1483 });
chart.setOption(option);
</script>
</body>
</html>
